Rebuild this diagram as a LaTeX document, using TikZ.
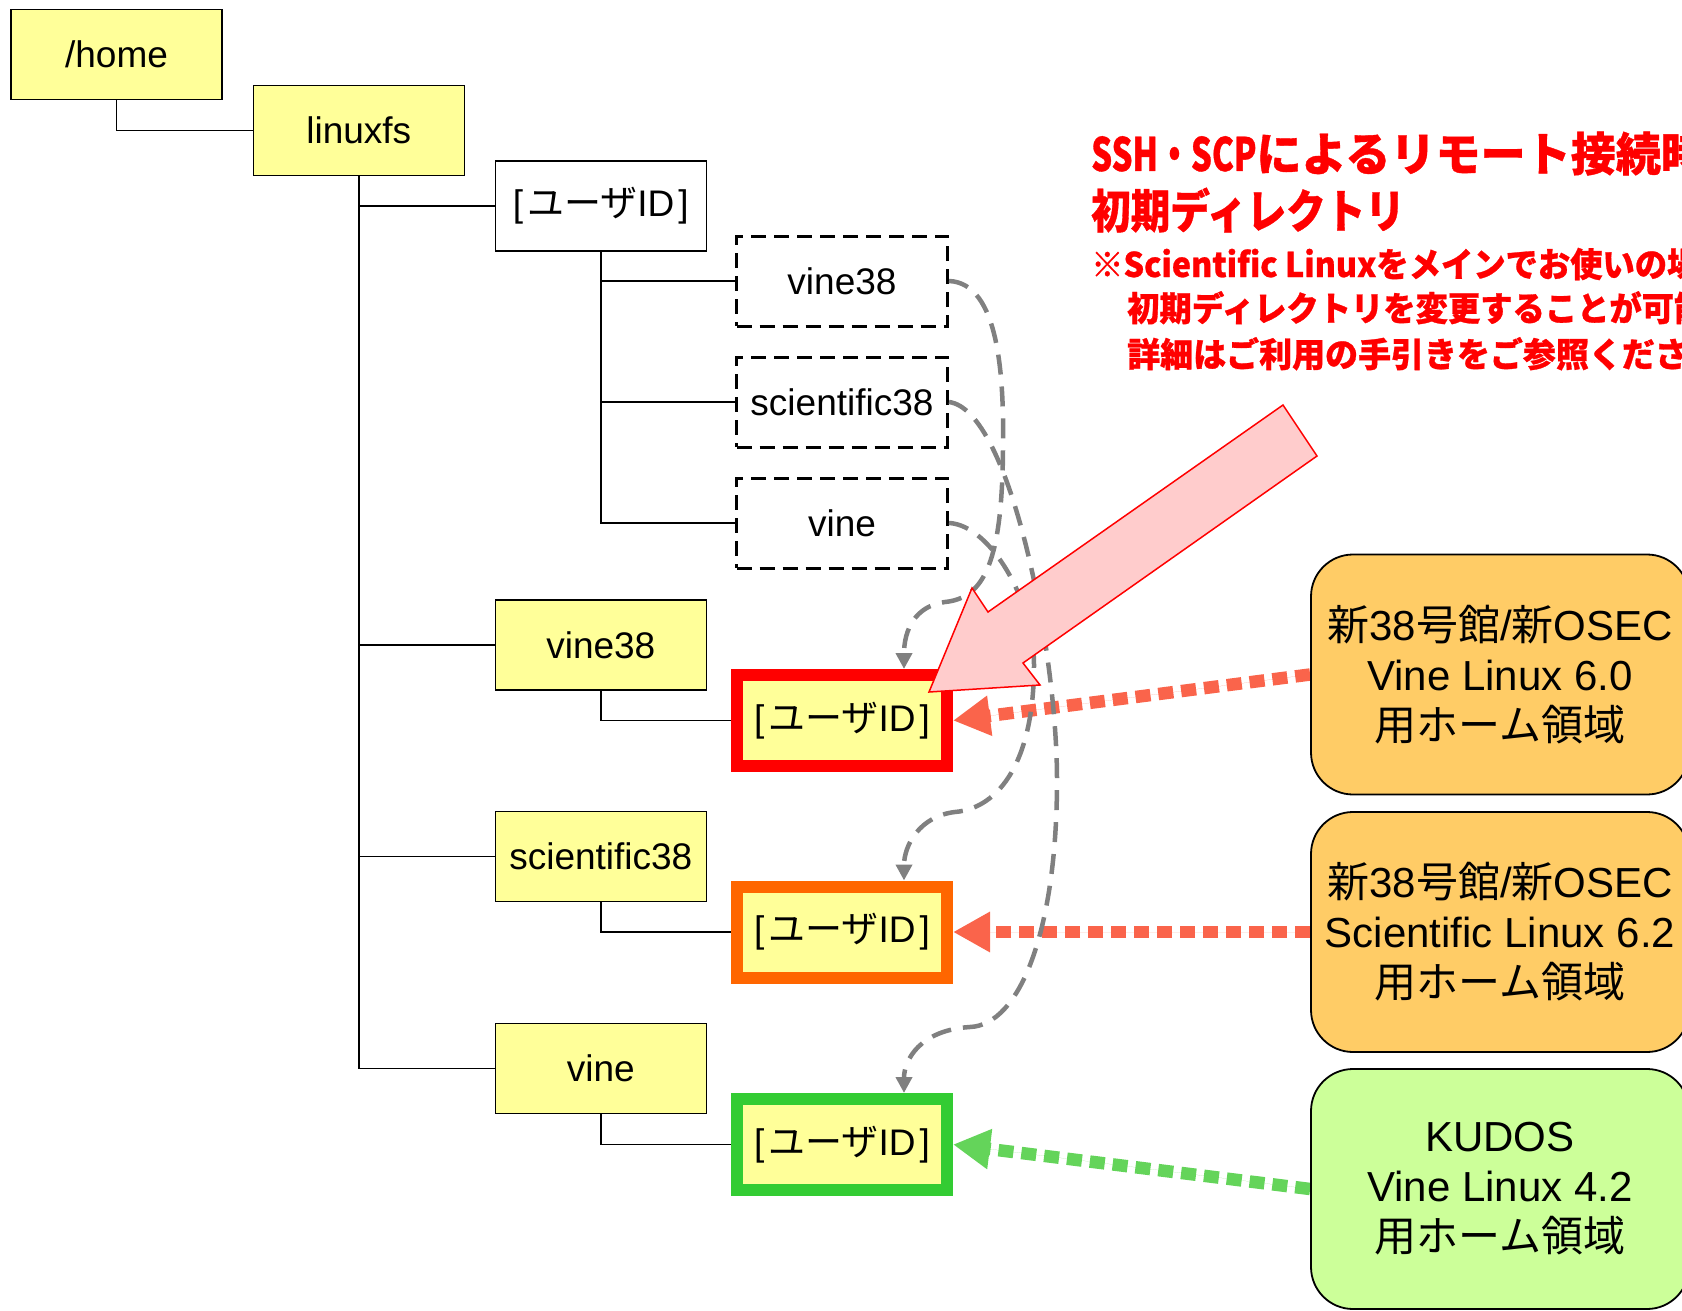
\documentclass[tikz,border=0pt]{standalone}
\usepackage{graphicx}
\usepackage{fontspec}
\setmainfont{Liberation Sans}
\newfontfamily\jp{Noto Sans CJK JP}
\newfontfamily\jptitle{Noto Sans CJK JP}[BoldFeatures={FakeBold=0.8}]
\usetikzlibrary{arrows.meta,backgrounds}
\definecolor{boxyellow}{HTML}{FFFF99}
\definecolor{boxorange}{HTML}{FFCC66}
\definecolor{boxgreen}{HTML}{CCFF99}
\definecolor{linkgray}{HTML}{808080}
\definecolor{dotred}{RGB}{250,100,75}
\definecolor{dotgreen}{RGB}{100,212,90}
\definecolor{arrowpink}{HTML}{FFCCCC}
\definecolor{vorange}{HTML}{FF6600}
\definecolor{vgreen}{HTML}{33CC33}
\newcommand{\J}[1]{{\jp #1}}
\newcommand{\uid}{[\hspace{4pt}\J{ユーザ}ID\hspace{4pt}]}
\begin{document}
\begin{tikzpicture}[x=1pt,y=-1pt,
  treebox/.style={draw=black, line width=1.6pt, fill=boxyellow, minimum width=211pt, minimum height=90pt, inner sep=0pt, font=\fontsize{37}{44}\selectfont},
  whitebox/.style={treebox, fill=white},
  linkbox/.style={draw=black, line width=3pt, dash pattern=on 15pt off 8pt, minimum width=211pt, minimum height=90pt, inner sep=0pt, font=\fontsize{37}{44}\selectfont},
  homebox/.style={treebox, line width=12pt, minimum width=210pt, minimum height=91pt},
  sysbox/.style={draw=black, line width=1.8pt, rounded corners=42pt, minimum width=378pt, minimum height=240pt, align=center, inner sep=0pt, font=\fontsize{42}{50}\selectfont},
  treeline/.style={draw=black, line width=1.4pt},
  gcurve/.style={draw=linkgray, line width=4.5pt, dash pattern=on 20pt off 12pt, -{Triangle[length=16pt,width=16pt]}},
  dotarrow/.style={line width=12.5pt, dash pattern=on 15pt off 8pt, -{Triangle[length=37pt,width=38pt]}},
  titletext/.style={anchor=base west, inner sep=0pt, text=red}
]
\useasboundingbox (0,0) rectangle (1682,1311);

% tree boxes
\node[treebox] (home) at (116.5,54.7) {/home};
\node[treebox] (linuxfs) at (358.8,130.5) {linuxfs};
\node[whitebox] (uidw) at (600.8,206) {\uid};
\node[linkbox] (d1) at (842,281) {vine38};
\node[linkbox] (d2) at (842,402) {scientific38};
\node[linkbox] (d3) at (842,523) {vine};
\node[treebox] (v38) at (600.8,645) {vine38};
\node[treebox] (s38) at (600.8,856.5) {scientific38};
\node[treebox] (vn) at (600.8,1068.5) {vine};
\node[homebox, draw=red] (hr) at (842,720.5) {\uid};
\node[homebox, draw=vorange] (ho) at (842,932) {\uid};
\node[homebox, draw=vgreen] (hg) at (842,1144.5) {\uid};

% system boxes
\node[sysbox, fill=boxorange] (rb1) at (1500,674.5) {\J{新}38\J{号館}/\J{新}OSEC\\Vine Linux 6.0\\\J{用ホーム領域}};
\node[sysbox, fill=boxorange] (rb2) at (1500,932) {\J{新}38\J{号館}/\J{新}OSEC\\Scientific Linux 6.2\\\J{用ホーム領域}};
\node[sysbox, fill=boxgreen] (rb3) at (1500,1189) {KUDOS\\Vine Linux 4.2\\\J{用ホーム領域}};

\begin{scope}[on background layer]
  \draw[treeline] (home.south) |- (linuxfs.west);
  \draw[treeline] (linuxfs.south) |- (uidw.west);
  \draw[treeline] (linuxfs.south) |- (v38.west);
  \draw[treeline] (linuxfs.south) |- (s38.west);
  \draw[treeline] (linuxfs.south) |- (vn.west);
  \draw[treeline] (uidw.south) |- (d1.west);
  \draw[treeline] (uidw.south) |- (d2.west);
  \draw[treeline] (uidw.south) |- (d3.west);
  \draw[treeline] (v38.south) |- (hr.west);
  \draw[treeline] (s38.south) |- (ho.west);
  \draw[treeline] (vn.south) |- (hg.west);
  \draw[dotarrow, draw=dotred, fill=dotred] (rb1.west) -- (hr.east);
  \draw[dotarrow, draw=dotred, fill=dotred] (rb2.west) -- (ho.east);
  \draw[dotarrow, draw=dotgreen, fill=dotgreen] (rb3.west) -- (hg.east);
\end{scope}

% link curves
\draw[gcurve] (d1.east) .. controls (1000,283) and (1004,380) .. (1003,450)
  .. controls (1002,560) and (985,598) .. (945,602)
  .. controls (915,606) and (904,630) .. ([xshift=62pt]hr.north);
\draw[gcurve] (d2.east) .. controls (1010,410) and (1057,650) .. (1057,780)
  .. controls (1057,930) and (1020,1025) .. (970,1027)
  .. controls (920,1030) and (904,1060) .. ([xshift=62pt]hg.north);
\draw[gcurve] (d3.east) .. controls (990,525) and (1034,600) .. (1034,665)
  .. controls (1034,760) and (1000,808) .. (955,812)
  .. controls (920,816) and (904,845) .. ([xshift=62pt]ho.north);

% big pointer arrow
\draw[draw=red, fill=arrowpink, line width=1.5pt, line join=miter]
  (929,692) -- (972,588) -- (988,612) -- (1283,405) -- (1317,456) -- (1023,663) -- (1040,685) -- cycle;

% title texts
\node[titletext, font=\fontsize{46}{46}\selectfont\jptitle\bfseries] (t1) at (1091,171)
  {\scalebox{0.98}[1]{\scalebox{0.73}[1]{SSH・SCP}によるリモート接続時}};
\node[titletext, font=\fontsize{46}{46}\selectfont\jptitle\bfseries] (t2) at (1091,228)
  {\scalebox{0.86}[1]{初期ディレクトリ}};
\node[titletext, font=\fontsize{34}{34}\selectfont\jptitle\bfseries] (t3) at (1091,277)
  {\scalebox{0.95}[1]{※Scientific Linuxをメインでお使いの場}};
\node[titletext, font=\fontsize{34}{34}\selectfont\jptitle\bfseries] (t4) at (1127,321)
  {\scalebox{0.95}[1]{初期ディレクトリを変更することが可能}};
\node[titletext, font=\fontsize{34}{34}\selectfont\jptitle\bfseries] (t5) at (1127,367)
  {\scalebox{0.97}[1]{詳細はご利用の手引きをご参照くださ}};
\end{tikzpicture}
\end{document}
